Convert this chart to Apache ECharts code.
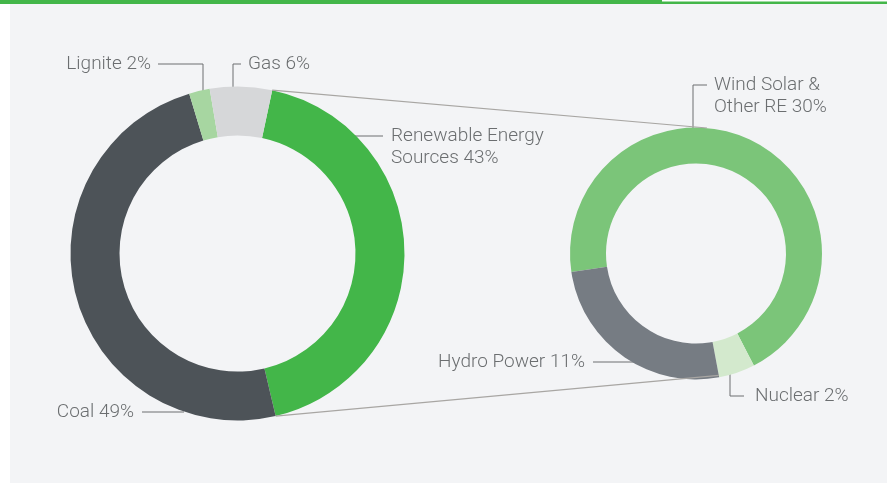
<!DOCTYPE html>
<html lang="en">
<head>
    <meta charset="UTF-8">
    <title>Energy mix</title>
    <script src="https://cdn.jsdelivr.net/npm/echarts@6/dist/echarts.min.js"></script>
    <style>
        html, body { margin: 0; padding: 0; background: #fff; }
        #main { width: 887px; height: 483px; }
    </style>
</head>
<body>
    <div id="main"></div>
    <script>
        // data
        var mixNames = ['Renewable Energy\nSources', 'Coal', 'Lignite', 'Gas']
        var mixValues = [43, 49, 2, 6]
        var reNames = ['Wind Solar &\nOther RE', 'Nuclear', 'Hydro Power']
        var reValues = [30, 2, 11]

        var mixColors = ['#43b649', '#4d5358', '#a7d6a1', '#d6d7d9']
        var reColors = ['#7bc579', '#d3e9cd', '#767c83']

        var textColor = '#6b6e70'
        var lineColor = '#6d6f71'
        var fontSize = 19
        var lineH = 22.5

        // label anchors: text x, first line centre y, align, label line points
        var mixLabels = [
            { x: 391, y: 136, align: 'left', pts: [[339, 136], [362, 136], [383, 136]] },
            { x: 134, y: 412, align: 'right', pts: [[184, 412], [160, 412], [142, 412]] },
            { x: 151, y: 64, align: 'right', pts: [[203, 98], [203, 64], [158, 64]] },
            { x: 248, y: 64, align: 'left', pts: [[233, 98], [233, 64], [241, 64]] }
        ]
        var reLabels = [
            { x: 714, y: 85, align: 'left', pts: [[693, 137], [693, 85], [707, 85]] },
            { x: 755, y: 396, align: 'left', pts: [[730, 365], [730, 396], [744, 396]] },
            { x: 585, y: 362, align: 'right', pts: [[644, 362], [618, 362], [593, 362]] }
        ]

        var mixCenter = [237.5, 253.5], mixR = [118, 167], mixStart = 78
        var reCenter = [696, 253.5], reR = [90, 126], reStart = 188.5

        function toData(names, values) {
            return names.map(function(n, i) {
                return { name: n, value: values[i] }
            })
        }

        function layoutFn(labels) {
            return function(p) {
                var l = labels[p.dataIndex]
                return {
                    x: l.x,
                    y: l.y - lineH / 2,
                    align: l.align,
                    verticalAlign: 'top',
                    labelLinePoints: l.pts
                }
            }
        }

        // point on a ring edge at the boundary after cumulative index k (clockwise)
        function edgePoint(values, start, center, r, k) {
            var sum = values.reduce(function(a, b) { return a + b }, 0)
            var acc = 0
            for (var i = 0; i < k; i++) acc += values[i]
            var deg = start - acc / sum * 360
            var a = deg * Math.PI / 180
            return [center[0] + r * Math.cos(a), center[1] - r * Math.sin(a)]
        }

        var pieBase = {
            type: 'pie',
            silent: true,
            clockwise: true,
            avoidLabelOverlap: false,
            animation: false,
            label: {
                show: true,
                formatter: '{b} {c}%',
                color: textColor,
                fontSize: fontSize,
                fontFamily: 'Roboto',
                fontWeight: 300,
                lineHeight: lineH
            },
            labelLine: {
                show: true,
                lineStyle: { color: lineColor, width: 1 }
            },
            emphasis: { disabled: true }
        }

        var a1 = edgePoint(mixValues, mixStart, mixCenter, mixR[1], 0)
        var a2 = edgePoint(mixValues, mixStart, mixCenter, mixR[1], 1)
        var b1 = edgePoint(reValues, 85, reCenter, reR[1], 0)
        var b2 = edgePoint(reValues, reStart, reCenter, reR[1] - 2, 2)

        var mCharts = echarts.init(document.getElementById('main'))
        var option = {
            backgroundColor: '#fff',
            animation: false,
            graphic: [
                { type: 'rect', z: -10, shape: { x: 10, y: 4, width: 877, height: 479 }, style: { fill: '#f3f4f6' } },
                { type: 'rect', z: -9, shape: { x: 0, y: 0, width: 887, height: 4 }, style: { fill: '#43b649' } },
                { type: 'rect', z: -8, shape: { x: 662, y: 0, width: 225, height: 1.5 }, style: { fill: '#fff' } },
                { type: 'line', z: 10, shape: { x1: a1[0], y1: a1[1], x2: b1[0], y2: b1[1] }, style: { stroke: '#a8a6a3', lineWidth: 1.2 } },
                { type: 'line', z: 10, shape: { x1: a2[0], y1: a2[1], x2: b2[0], y2: b2[1] }, style: { stroke: '#a8a6a3', lineWidth: 1.2 } }
            ],
            series: [
                Object.assign({}, pieBase, {
                    name: 'mix',
                    center: mixCenter,
                    radius: mixR,
                    startAngle: mixStart,
                    color: mixColors,
                    labelLayout: layoutFn(mixLabels),
                    data: toData(mixNames, mixValues)
                }),
                Object.assign({}, pieBase, {
                    name: 're',
                    center: reCenter,
                    radius: reR,
                    startAngle: reStart,
                    color: reColors,
                    labelLayout: layoutFn(reLabels),
                    data: toData(reNames, reValues)
                })
            ]
        }
        mCharts.setOption(option)
    </script>
</body>
</html>
